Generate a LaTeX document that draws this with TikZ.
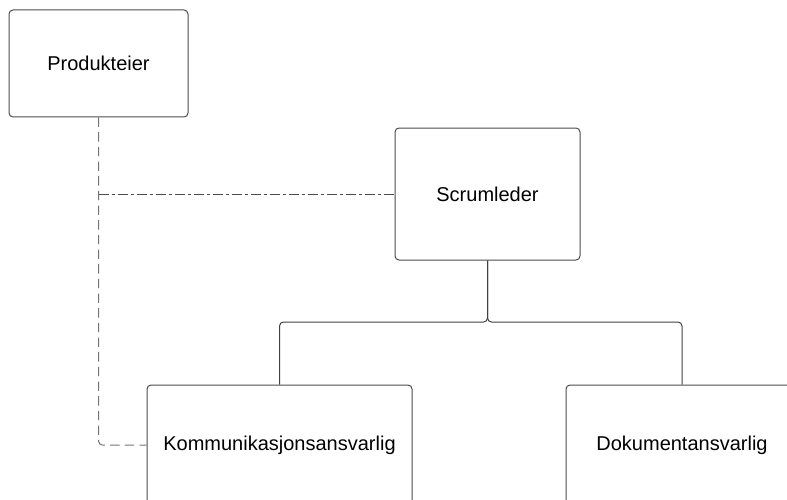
\documentclass[tikz,border=0pt]{standalone}
\usepackage{fontspec}
\setmainfont{Liberation Sans}
\begin{document}
\begin{tikzpicture}[x=0.75pt,y=-0.75pt,
  role/.style={draw=black!70,line width=0.75pt,rounded corners=3pt,fill=white,
    inner sep=0pt,font=\fontsize{15}{18}\selectfont},
  tree/.style={draw=black!75,line width=0.75pt,rounded corners=3pt},
  advisory/.style={draw=black!55,line width=0.75pt,rounded corners=3pt,
    dash pattern=on 7pt off 4pt},
  liaison/.style={draw=black!70,line width=0.75pt,
    dash pattern=on 7.5pt off 2.25pt on 2.25pt off 2.25pt}]
\useasboundingbox (0,0) rectangle (787,499);
\begin{scope}
\clip (0,0) rectangle (787,499);
% role boxes (the lower two run past the page edge)
\node[role,minimum width=179*0.75pt,minimum height=107*0.75pt] (po) at (98.5,63.5) {Produkteier};
\node[role,minimum width=185*0.75pt,minimum height=132*0.75pt] (sm) at (487.5,194) {Scrumleder};
\node[role,minimum width=265*0.75pt,minimum height=120*0.75pt] (ka) at (279.5,445) {Kommunikasjonsansvarlig};
\node[role,minimum width=232*0.75pt,minimum height=120*0.75pt] (da) at (682,445) {Dokumentansvarlig};
% junction points
\coordinate (j) at (sm.south |- 0,322);
\coordinate (pj) at (po.south |- sm.west);
% reporting lines from the scrum leader
\draw[tree] (sm.south) -- (j) -| (ka.north);
\draw[tree] (sm.south) -- (j) -| (da.north);
% product owner links
\draw[advisory] (po.south) |- (ka.west);
\draw[liaison] (pj) -- (sm.west);
\end{scope}
\end{tikzpicture}
\end{document}
